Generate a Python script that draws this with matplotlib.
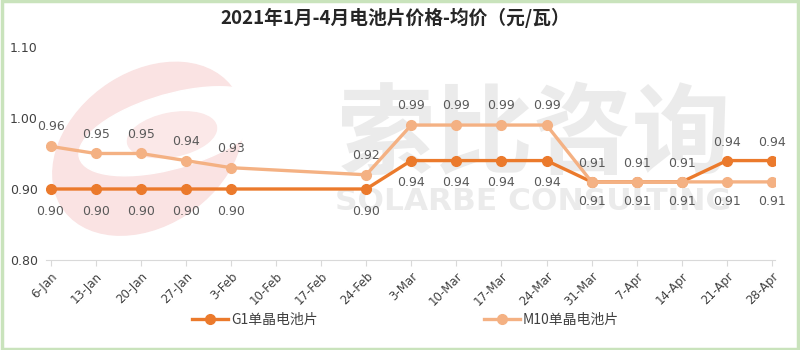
import numpy as np
import matplotlib.pyplot as plt
from matplotlib.patches import Ellipse, Rectangle

plt.rcParams['font.family'] = ['Noto Sans CJK SC', 'DejaVu Sans']

# 周度均价（元/瓦），10-Feb 与 17-Feb 无报价
weeks = ['6-Jan', '13-Jan', '20-Jan', '27-Jan', '3-Feb', '10-Feb', '17-Feb', '24-Feb',
         '3-Mar', '10-Mar', '17-Mar', '24-Mar', '31-Mar', '7-Apr', '14-Apr', '21-Apr', '28-Apr']
g1 = [0.90, 0.90, 0.90, 0.90, 0.90, np.nan, np.nan, 0.90,
      0.94, 0.94, 0.94, 0.94, 0.91, 0.91, 0.91, 0.94, 0.94]
m10 = [0.96, 0.95, 0.95, 0.94, 0.93, np.nan, np.nan, 0.92,
       0.99, 0.99, 0.99, 0.99, 0.91, 0.91, 0.91, 0.91, 0.91]
yticks = [0.80, 0.90, 1.00, 1.10]

c_g1 = '#EB7A2C'
c_m10 = '#F4B183'

fig = plt.figure(figsize=(8, 3.5), dpi=100)

# 水印放在底层的空白坐标系里
bg = fig.add_axes([0, 0, 1, 1], zorder=0)
bg.axis('off')
bg.set_xlim(0, 1)
bg.set_ylim(0, 1)
bg.add_patch(Ellipse((0.185, 0.575), 0.225, 0.50, angle=-10, color='#FAE3E3'))
bg.add_patch(Ellipse((0.215, 0.625), 0.17, 0.30, angle=-40, color='white'))
bg.add_patch(Ellipse((0.215, 0.615), 0.10, 0.14, angle=-30, color='#FBE8E8'))
bg.text(0.668, 0.61, '索比咨询', ha='center', va='center', fontsize=71, fontweight='bold',
        color='#EBEBEB')
bg.text(0.666, 0.425, 'SOLARBE CONSULTING', ha='center', va='center',
        fontsize=22.5, fontweight='bold', color='#EBEBEB', family='DejaVu Sans')

ax = fig.add_axes([0.0575, 0.257, 0.9115, 0.609], zorder=2)
ax.set_facecolor('none')

x = np.arange(len(weeks))
for vals, color, name in [(g1, c_g1, 'G1单晶电池片'), (m10, c_m10, 'M10单晶电池片')]:
    v = np.array(vals)
    ok = ~np.isnan(v)
    ax.plot(x[ok], v[ok], color=color, lw=2.4, marker='o', ms=7, label=name, zorder=3)

# 数据标签：3月下旬起两条线的标签上下互换
for i in range(len(weeks)):
    late = i >= 12
    if not np.isnan(g1[i]):
        ax.annotate(f'{g1[i]:.2f}', (x[i], g1[i]), xytext=(0, 13 if late else -16),
                    textcoords='offset points', ha='center', va='center',
                    fontsize=9, color='#595959', family='DejaVu Sans')
    if not np.isnan(m10[i]):
        ax.annotate(f'{m10[i]:.2f}', (x[i], m10[i]), xytext=(0, -14 if late else 14),
                    textcoords='offset points', ha='center', va='center',
                    fontsize=9, color='#595959', family='DejaVu Sans')

ax.set_ylim(0.80, 1.10)
ax.set_yticks(yticks)
ax.set_yticklabels([f'{t:.2f}' for t in yticks], fontsize=9, color='#404040', family='DejaVu Sans')
ax.set_xlim(-0.1, 16.07)
ax.set_xticks(x)
ax.set_xticklabels(weeks, rotation=45, ha='right', rotation_mode='anchor',
                   fontsize=8.5, color='#404040', family='DejaVu Sans')
ax.tick_params(axis='y', length=0, pad=6)
ax.tick_params(axis='x', length=4, color='#D9D9D9', pad=3)
for s in ['top', 'right', 'left']:
    ax.spines[s].set_visible(False)
ax.spines['bottom'].set_color('#D9D9D9')

fig.text(0.494, 0.95, '2021年1月-4月电池片价格-均价（元/瓦）', ha='center', va='center',
         fontsize=13.5, fontweight='bold', color='#262626', zorder=3)

fig.legend(loc='center', bbox_to_anchor=(0.507, 0.085), ncol=2, frameon=False,
           fontsize=10, handlelength=2.6, columnspacing=12, handletextpad=0.2,
           labelcolor='#404040')

fig.patches.append(Rectangle((0.002, 0.003), 0.996, 0.994, transform=fig.transFigure,
                             fill=False, edgecolor='#C9E3BC', lw=2.5, zorder=10))

fig.savefig('out.png', dpi=100)
